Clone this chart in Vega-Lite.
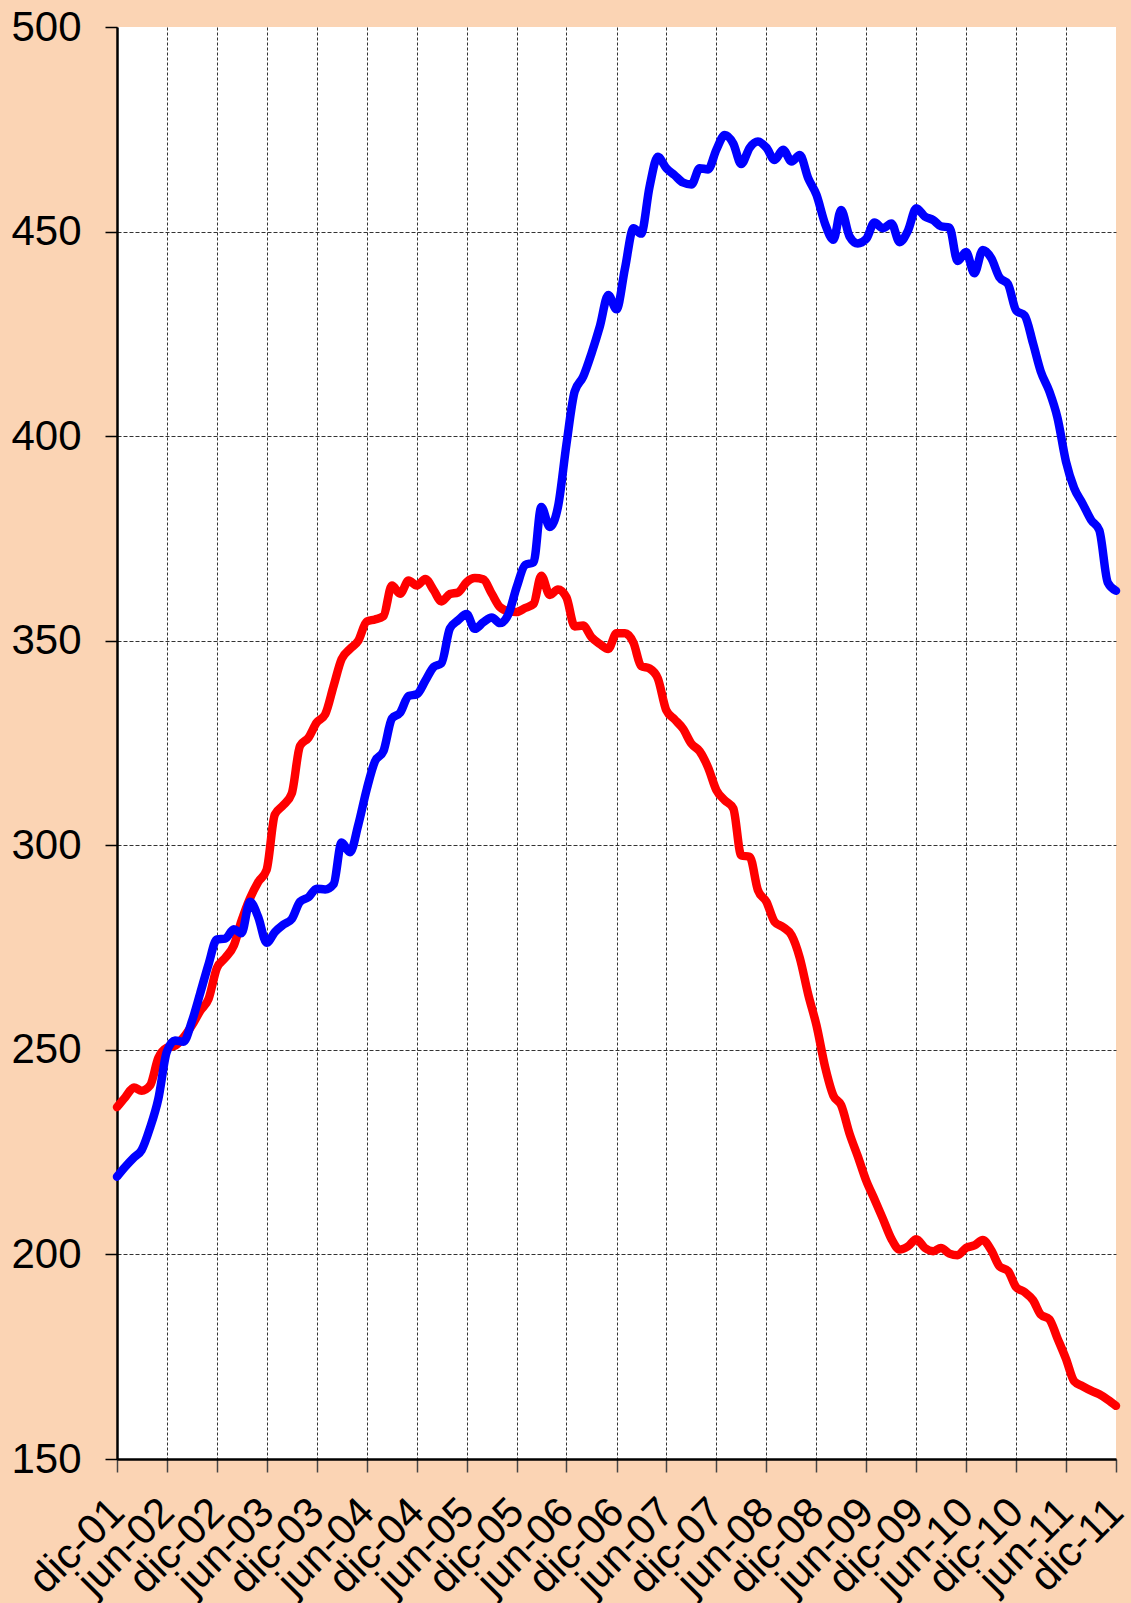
{
  "$schema": "https://vega.github.io/schema/vega-lite/v6.json",
  "width": 999,
  "height": 1432,
  "autosize": {"type": "none"},
  "padding": {"left": 117, "top": 27, "right": 15, "bottom": 144},
  "background": "#FBD4B4",
  "config": {"view": {"fill": "white", "stroke": null}, "font": "Liberation Sans"},
  "data": {"values": [
    {"fecha": "2001-12-01", "rojo": 236, "azul": 219},
    {"fecha": "2002-01-01", "rojo": 238.5, "azul": 221.5},
    {"fecha": "2002-02-01", "rojo": 240.8, "azul": 223.7},
    {"fecha": "2002-03-01", "rojo": 240, "azul": 225.5},
    {"fecha": "2002-04-01", "rojo": 241.3, "azul": 231},
    {"fecha": "2002-05-01", "rojo": 248, "azul": 238},
    {"fecha": "2002-06-01", "rojo": 250.5, "azul": 249.5},
    {"fecha": "2002-07-01", "rojo": 251, "azul": 252.3},
    {"fecha": "2002-08-01", "rojo": 253, "azul": 252},
    {"fecha": "2002-09-01", "rojo": 256, "azul": 257},
    {"fecha": "2002-10-01", "rojo": 259.5, "azul": 263.8},
    {"fecha": "2002-11-01", "rojo": 262.5, "azul": 271},
    {"fecha": "2002-12-01", "rojo": 270, "azul": 277},
    {"fecha": "2003-01-01", "rojo": 272.5, "azul": 277.2},
    {"fecha": "2003-02-01", "rojo": 275.5, "azul": 279.5},
    {"fecha": "2003-03-01", "rojo": 281.5, "azul": 278.5},
    {"fecha": "2003-04-01", "rojo": 287, "azul": 286.2},
    {"fecha": "2003-05-01", "rojo": 291, "azul": 282.5},
    {"fecha": "2003-06-01", "rojo": 294, "azul": 276.2},
    {"fecha": "2003-07-01", "rojo": 307.5, "azul": 278.8},
    {"fecha": "2003-08-01", "rojo": 309.8, "azul": 280.6},
    {"fecha": "2003-09-01", "rojo": 312.7, "azul": 282},
    {"fecha": "2003-10-01", "rojo": 324.3, "azul": 286.2},
    {"fecha": "2003-11-01", "rojo": 326.3, "azul": 287.3},
    {"fecha": "2003-12-01", "rojo": 330, "azul": 289.4},
    {"fecha": "2004-01-01", "rojo": 332, "azul": 289.2},
    {"fecha": "2004-02-01", "rojo": 339, "azul": 290.5},
    {"fecha": "2004-03-01", "rojo": 345.5, "azul": 300.7},
    {"fecha": "2004-04-01", "rojo": 348, "azul": 298.3},
    {"fecha": "2004-05-01", "rojo": 350, "azul": 305},
    {"fecha": "2004-06-01", "rojo": 354.7, "azul": 313.7},
    {"fecha": "2004-07-01", "rojo": 355.2, "azul": 320.5},
    {"fecha": "2004-08-01", "rojo": 356, "azul": 323},
    {"fecha": "2004-09-01", "rojo": 363.5, "azul": 331},
    {"fecha": "2004-10-01", "rojo": 361.5, "azul": 332.4},
    {"fecha": "2004-11-01", "rojo": 364.7, "azul": 336.5},
    {"fecha": "2004-12-01", "rojo": 363.5, "azul": 336.9},
    {"fecha": "2005-01-01", "rojo": 365.1, "azul": 340.2},
    {"fecha": "2005-02-01", "rojo": 362.3, "azul": 343.6},
    {"fecha": "2005-03-01", "rojo": 359.6, "azul": 344.5},
    {"fecha": "2005-04-01", "rojo": 361.4, "azul": 353},
    {"fecha": "2005-05-01", "rojo": 361.8, "azul": 355},
    {"fecha": "2005-06-01", "rojo": 364.3, "azul": 356.5},
    {"fecha": "2005-07-01", "rojo": 365.3, "azul": 352.9},
    {"fecha": "2005-08-01", "rojo": 365, "azul": 354.5},
    {"fecha": "2005-09-01", "rojo": 361.5, "azul": 355.7},
    {"fecha": "2005-10-01", "rojo": 358.2, "azul": 354.3},
    {"fecha": "2005-11-01", "rojo": 357.2, "azul": 356.5},
    {"fecha": "2005-12-01", "rojo": 357, "azul": 363.1},
    {"fecha": "2006-01-01", "rojo": 358, "azul": 368.5},
    {"fecha": "2006-02-01", "rojo": 359, "azul": 369.2},
    {"fecha": "2006-03-01", "rojo": 365.9, "azul": 382.7},
    {"fecha": "2006-04-01", "rojo": 361.2, "azul": 377.8},
    {"fecha": "2006-05-01", "rojo": 362.5, "azul": 382.7},
    {"fecha": "2006-06-01", "rojo": 360.6, "azul": 398},
    {"fecha": "2006-07-01", "rojo": 353.5, "azul": 410.9},
    {"fecha": "2006-08-01", "rojo": 353.7, "azul": 414.5},
    {"fecha": "2006-09-01", "rojo": 350.8, "azul": 420.3},
    {"fecha": "2006-10-01", "rojo": 349.2, "azul": 426.8},
    {"fecha": "2006-11-01", "rojo": 348, "azul": 434.5},
    {"fecha": "2006-12-01", "rojo": 351.8, "azul": 431},
    {"fecha": "2007-01-01", "rojo": 351.8, "azul": 441},
    {"fecha": "2007-02-01", "rojo": 349.5, "azul": 450.8},
    {"fecha": "2007-03-01", "rojo": 343.8, "azul": 449.5},
    {"fecha": "2007-04-01", "rojo": 343.2, "azul": 461},
    {"fecha": "2007-05-01", "rojo": 340.8, "azul": 468.3},
    {"fecha": "2007-06-01", "rojo": 333, "azul": 465.5},
    {"fecha": "2007-07-01", "rojo": 330.8, "azul": 463.8},
    {"fecha": "2007-08-01", "rojo": 328.5, "azul": 462},
    {"fecha": "2007-09-01", "rojo": 324.8, "azul": 461.5},
    {"fecha": "2007-10-01", "rojo": 323, "azul": 465.5},
    {"fecha": "2007-11-01", "rojo": 319, "azul": 465.2},
    {"fecha": "2007-12-01", "rojo": 313.5, "azul": 470},
    {"fecha": "2008-01-01", "rojo": 311, "azul": 473.6},
    {"fecha": "2008-02-01", "rojo": 309, "azul": 471.5},
    {"fecha": "2008-03-01", "rojo": 297.5, "azul": 466.5},
    {"fecha": "2008-04-01", "rojo": 297.2, "azul": 470.5},
    {"fecha": "2008-05-01", "rojo": 289, "azul": 472},
    {"fecha": "2008-06-01", "rojo": 286.2, "azul": 470.5},
    {"fecha": "2008-07-01", "rojo": 281.3, "azul": 467.5},
    {"fecha": "2008-08-01", "rojo": 280, "azul": 470},
    {"fecha": "2008-09-01", "rojo": 278, "azul": 467.1},
    {"fecha": "2008-10-01", "rojo": 272.5, "azul": 468.7},
    {"fecha": "2008-11-01", "rojo": 263.5, "azul": 463},
    {"fecha": "2008-12-01", "rojo": 256, "azul": 459},
    {"fecha": "2009-01-01", "rojo": 246, "azul": 452},
    {"fecha": "2009-02-01", "rojo": 238.8, "azul": 448},
    {"fecha": "2009-03-01", "rojo": 236.5, "azul": 455.3},
    {"fecha": "2009-04-01", "rojo": 229.5, "azul": 448.8},
    {"fecha": "2009-05-01", "rojo": 224, "azul": 447.1},
    {"fecha": "2009-06-01", "rojo": 218, "azul": 448.2},
    {"fecha": "2009-07-01", "rojo": 213.5, "azul": 452.2},
    {"fecha": "2009-08-01", "rojo": 208.7, "azul": 450.8},
    {"fecha": "2009-09-01", "rojo": 203.8, "azul": 452},
    {"fecha": "2009-10-01", "rojo": 201.2, "azul": 447.4},
    {"fecha": "2009-11-01", "rojo": 202, "azul": 450.3},
    {"fecha": "2009-12-01", "rojo": 203.7, "azul": 455.7},
    {"fecha": "2010-01-01", "rojo": 201.6, "azul": 453.7},
    {"fecha": "2010-02-01", "rojo": 200.8, "azul": 452.8},
    {"fecha": "2010-03-01", "rojo": 201.6, "azul": 451.3},
    {"fecha": "2010-04-01", "rojo": 200.2, "azul": 451},
    {"fecha": "2010-05-01", "rojo": 199.8, "azul": 442.8},
    {"fecha": "2010-06-01", "rojo": 201.6, "azul": 445},
    {"fecha": "2010-07-01", "rojo": 202.2, "azul": 439.8},
    {"fecha": "2010-08-01", "rojo": 203.5, "azul": 445.5},
    {"fecha": "2010-09-01", "rojo": 201, "azul": 443.5},
    {"fecha": "2010-10-01", "rojo": 197.1, "azul": 438.8},
    {"fecha": "2010-11-01", "rojo": 196, "azul": 437.2},
    {"fecha": "2010-12-01", "rojo": 192, "azul": 430.7},
    {"fecha": "2011-01-01", "rojo": 190.8, "azul": 429.5},
    {"fecha": "2011-02-01", "rojo": 188.8, "azul": 422.6},
    {"fecha": "2011-03-01", "rojo": 185.3, "azul": 415.8},
    {"fecha": "2011-04-01", "rojo": 184.2, "azul": 411},
    {"fecha": "2011-05-01", "rojo": 179.5, "azul": 404.5},
    {"fecha": "2011-06-01", "rojo": 174.5, "azul": 393.8},
    {"fecha": "2011-07-01", "rojo": 169, "azul": 387.3},
    {"fecha": "2011-08-01", "rojo": 167.8, "azul": 383.5},
    {"fecha": "2011-09-01", "rojo": 166.7, "azul": 379.5},
    {"fecha": "2011-10-01", "rojo": 165.8, "azul": 377},
    {"fecha": "2011-11-01", "rojo": 164.5, "azul": 364.2},
    {"fecha": "2011-12-01", "rojo": 163, "azul": 362.2}
  ]},
  "encoding": {
    "x": {
      "field": "fecha",
      "type": "temporal",
      "scale": {"type": "utc", "domain": [{"year": 2001, "month": 12, "date": 1, "utc": true}, {"year": 2011, "month": 12, "date": 1, "utc": true}]},
      "axis": {
        "title": null,
        "values": [
          {"year": 2001, "month": 12, "date": 1, "utc": true},
          {"year": 2002, "month": 6, "date": 1, "utc": true},
          {"year": 2002, "month": 12, "date": 1, "utc": true},
          {"year": 2003, "month": 6, "date": 1, "utc": true},
          {"year": 2003, "month": 12, "date": 1, "utc": true},
          {"year": 2004, "month": 6, "date": 1, "utc": true},
          {"year": 2004, "month": 12, "date": 1, "utc": true},
          {"year": 2005, "month": 6, "date": 1, "utc": true},
          {"year": 2005, "month": 12, "date": 1, "utc": true},
          {"year": 2006, "month": 6, "date": 1, "utc": true},
          {"year": 2006, "month": 12, "date": 1, "utc": true},
          {"year": 2007, "month": 6, "date": 1, "utc": true},
          {"year": 2007, "month": 12, "date": 1, "utc": true},
          {"year": 2008, "month": 6, "date": 1, "utc": true},
          {"year": 2008, "month": 12, "date": 1, "utc": true},
          {"year": 2009, "month": 6, "date": 1, "utc": true},
          {"year": 2009, "month": 12, "date": 1, "utc": true},
          {"year": 2010, "month": 6, "date": 1, "utc": true},
          {"year": 2010, "month": 12, "date": 1, "utc": true},
          {"year": 2011, "month": 6, "date": 1, "utc": true},
          {"year": 2011, "month": 12, "date": 1, "utc": true}
        ],
        "labelExpr": "(utcFormat(datum.value, '%m') == '12' ? 'dic' : 'jun') + '-' + utcFormat(datum.value, '%y')",
        "labelAngle": -45,
        "labelAlign": "right",
        "labelBaseline": "middle",
        "labelFontSize": 42,
        "labelFont": "Liberation Sans",
        "labelColor": "#000000",
        "labelPadding": 33,
        "labelFlush": false,
        "labelOverlap": false,
        "tickSize": 13,
        "tickColor": "#444444",
        "tickWidth": 1.5,
        "domainColor": "#000000",
        "domainWidth": 2.5,
        "grid": true,
        "gridColor": "#333333",
        "gridDash": [3, 2],
        "gridWidth": 1,
        "gridOpacity": {"condition": {"test": "utcFormat(datum.value, '%Y-%m') == '2011-12'", "value": 0}, "value": 1}
      }
    }
  },
  "layer": [
    {
      "mark": {"type": "line", "color": "#FF0000", "strokeWidth": 8.5, "interpolate": "monotone", "strokeCap": "round", "strokeJoin": "round"},
      "encoding": {
        "y": {
          "field": "rojo",
          "type": "quantitative",
          "scale": {"domain": [150, 500], "nice": false, "zero": false},
          "axis": {
            "title": null,
            "values": [150, 200, 250, 300, 350, 400, 450, 500],
            "labelFontSize": 42,
            "labelFont": "Liberation Sans",
            "labelColor": "#000000",
            "labelPadding": 24,
            "labelFlush": false,
            "tickSize": 12,
            "tickColor": "#000000",
            "tickWidth": 1.5,
            "domainColor": "#000000",
            "domainWidth": 2.5,
            "grid": true,
            "gridColor": "#333333",
            "gridDash": [4, 2],
            "gridWidth": 1,
            "gridOpacity": {"condition": {"test": "datum.value == 500", "value": 0}, "value": 1}
          }
        }
      }
    },
    {
      "mark": {"type": "line", "color": "#0000FF", "strokeWidth": 8.5, "interpolate": "monotone", "strokeCap": "round", "strokeJoin": "round"},
      "encoding": {
        "y": {
          "field": "azul",
          "type": "quantitative",
          "scale": {"domain": [150, 500], "nice": false, "zero": false}
        }
      }
    }
  ]
}
